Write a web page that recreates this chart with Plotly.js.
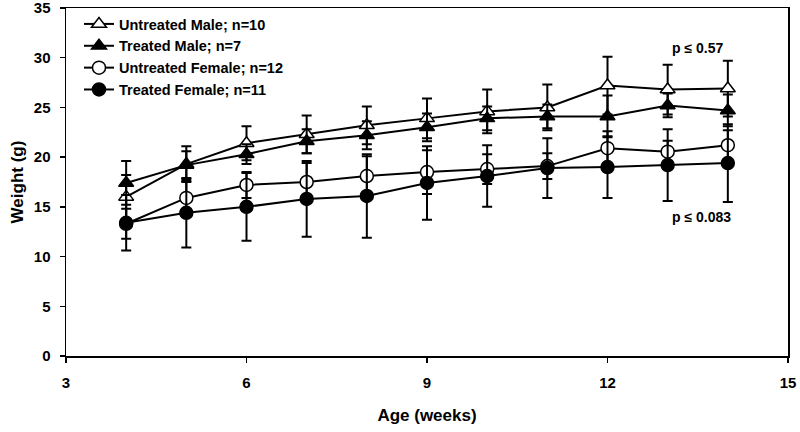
<!DOCTYPE html>
<html>
<head>
<meta charset="utf-8">
<script src="https://cdn.plot.ly/plotly-3.0.1.min.js"></script>
<style>html,body{margin:0;padding:0;background:#fff;}#chart{width:800px;height:432px;}</style>
</head>
<body>
<div id="chart"></div>
<script>
const weeks = [4, 5, 6, 7, 8, 9, 10, 11, 12, 13, 14];

const untreatedMale = [16.0, 19.3, 21.4, 22.3, 23.2, 23.9, 24.6, 25.0, 27.2, 26.8, 26.9];
const untreatedMaleErr = [2.2, 1.8, 1.7, 1.9, 1.9, 2.0, 2.2, 2.3, 2.9, 2.5, 2.8];

const treatedMale = [17.4, 19.2, 20.3, 21.6, 22.2, 23.0, 23.9, 24.1, 24.1, 25.2, 24.7];
const treatedMaleErr = [2.2, 1.4, 1.0, 1.2, 1.4, 1.4, 1.2, 1.2, 2.1, 1.2, 1.6];

const untreatedFemale = [13.3, 15.9, 17.2, 17.5, 18.1, 18.5, 18.8, 19.1, 20.9, 20.55, 21.2];
const untreatedFemaleErr = [1.5, 1.7, 1.3, 1.9, 2.0, 2.2, 1.5, 1.3, 1.7, 1.1, 1.5];

const treatedFemale = [13.4, 14.4, 15.0, 15.8, 16.1, 17.4, 18.1, 18.9, 19.0, 19.2, 19.4];
const treatedFemaleErr = [2.8, 3.5, 3.4, 3.8, 4.2, 3.7, 3.1, 3.0, 3.1, 3.6, 3.9];

const seriesNames = ["Untreated Male; n=10", "Treated Male; n=7", "Untreated Female; n=12", "Treated Female; n=11"];
const xTicks = [3, 6, 9, 12, 15];
const yTicks = [0, 5, 10, 15, 20, 25, 30, 35];
const pLabels = ["p \u2264 0.57", "p \u2264 0.083"];

const FONT = "Liberation Sans, Arial, sans-serif";

function mk(name, y, err, symbol, fill) {
  return {
    x: weeks, y: y, name: name, type: "scatter", mode: "lines+markers",
    line: {color: "#000", width: 2},
    marker: {symbol: symbol, size: 13, color: fill, line: {color: "#000", width: 1.5}},
    error_y: {type: "data", array: err, visible: true, color: "#000", thickness: 2, width: 5}
  };
}

const data = [
  mk(seriesNames[0], untreatedMale, untreatedMaleErr, "triangle-up", "#fff"),
  mk(seriesNames[1], treatedMale, treatedMaleErr, "triangle-up", "#000"),
  mk(seriesNames[2], untreatedFemale, untreatedFemaleErr, "circle", "#fff"),
  mk(seriesNames[3], treatedFemale, treatedFemaleErr, "circle", "#000")
];

const axisFont = {family: FONT, size: 15, color: "#000", weight: "bold"};

const layout = {
  width: 800, height: 432,
  margin: {l: 66, r: 12, t: 8, b: 76},
  paper_bgcolor: "#fff", plot_bgcolor: "#fff",
  showlegend: true,
  legend: {
    x: 0.018, y: 1.0, xanchor: "left", yanchor: "top",
    bgcolor: "rgba(0,0,0,0)", borderwidth: 0,
    font: {family: FONT, size: 14.5, color: "#000", weight: "bold"},
    tracegroupgap: 0
  },
  xaxis: {
    range: [3, 15], tickvals: xTicks, ticktext: xTicks.map(String),
    showgrid: false, zeroline: false, showline: true, linecolor: "#000", linewidth: 1.5,
    mirror: true, ticks: "outside", ticklen: 5, tickwidth: 1.5, tickcolor: "#000",
    tickfont: axisFont, ticklabelstandoff: 7, ticklabeloverflow: "allow",
    title: {text: "Age (weeks)", font: {family: FONT, size: 17, color: "#000", weight: "bold"}, standoff: 19}
  },
  yaxis: {
    range: [0, 35], tickvals: yTicks, ticktext: yTicks.map(String),
    showgrid: false, zeroline: false, showline: true, linecolor: "#000", linewidth: 1.5,
    mirror: true, ticks: "outside", ticklen: 5, tickwidth: 1.5, tickcolor: "#000",
    tickfont: axisFont, ticklabelstandoff: 6, ticklabeloverflow: "allow",
    title: {text: "Weight (g)", font: {family: FONT, size: 17, color: "#000", weight: "bold"}, standoff: 6}
  },
  annotations: [
    {x: 13.5, y: 31.0, xref: "x", yref: "y", text: pLabels[0], showarrow: false,
     font: {family: FONT, size: 14, color: "#000", weight: "bold"}},
    {x: 13.57, y: 14.0, xref: "x", yref: "y", text: pLabels[1], showarrow: false,
     font: {family: FONT, size: 14, color: "#000", weight: "bold"}}
  ]
};

Plotly.newPlot("chart", data, layout, {displayModeBar: false, staticPlot: true});
</script>
</body>
</html>
